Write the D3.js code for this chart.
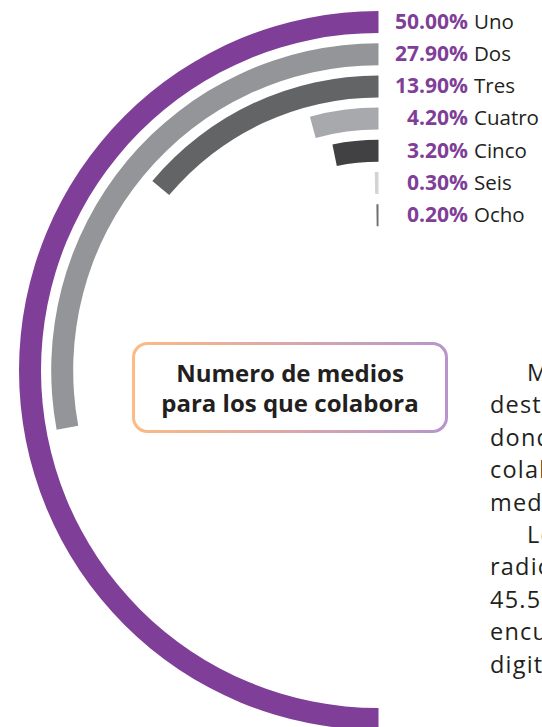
<!DOCTYPE html>
<html><head><meta charset="utf-8">
<script src="https://cdn.jsdelivr.net/npm/d3@7/dist/d3.min.js"></script>
<style>html,body{margin:0;padding:0;background:#fff;overflow:hidden}</style>
</head><body>
<svg id="chart" width="542" height="727"></svg>
<script>
const categories = ["Uno","Dos","Tres","Cuatro","Cinco","Seis","Ocho"];
const values = [50.0, 27.9, 13.9, 4.2, 3.2, 0.3, 0.2];
const valueLabels = ["50.00%","27.90%","13.90%","4.20%","3.20%","0.30%","0.20%"];
const colors = ["#7f3f98","#939598","#636466","#a7a9ac","#414042","#d1d3d4","#6d6e71"];
const titleLines = ["Numero de medios","para los que colabora"];
const paragraphLines = ["Más","destacan","donde","colabora","medios","Los","radio","45.5%","encuestados","digitales"];
const paragraphIndent = [true,false,false,false,false,true,false,false,false,false];

const svg = d3.select("#chart");
const W = 542, H = 727;
const cx = 378.5, cy = 370.5;
const font = "'Open Sans', 'Noto Sans', sans-serif";

const r = d3.scaleBand().domain(categories).range([359.5, 144.3]).paddingInner(0.317).paddingOuter(0);
const angle = d3.scaleLinear().domain([0, 100]).range([0, -2 * Math.PI]);
const color = d3.scaleOrdinal().domain(categories).range(colors);

const g = svg.append("g").attr("transform", `translate(${cx},${cy})`);
const arc = d3.arc()
  .innerRadius(d => r(d.c))
  .outerRadius(d => r(d.c) + r.bandwidth())
  .startAngle(0)
  .endAngle(d => angle(d.v));

const data = categories.map((c, i) => ({c, v: values[i], lab: valueLabels[i]}));
g.selectAll("path.bar").data(data).join("path")
  .attr("class", "bar")
  .attr("d", arc)
  .attr("fill", d => color(d.c));

// labels
const lab = svg.append("g");
data.forEach(d => {
  const yc = cy - (r(d.c) + r.bandwidth() / 2) + 6.8;
  lab.append("text").attr("x", 468).attr("y", yc)
    .attr("text-anchor", "end").attr("font-family", font).attr("font-weight", 700)
    .attr("font-size", 21).attr("fill", "#7f3f98").text(d.lab);
  lab.append("text").attr("x", 474).attr("y", yc)
    .attr("font-family", font).attr("font-size", 20.5).attr("fill", "#231f20").text(d.c);
});

// title box
const defs = svg.append("defs");
const grad = defs.append("linearGradient").attr("id", "boxGrad")
  .attr("x1", "0%").attr("x2", "100%").attr("y1", "0%").attr("y2", "0%");
grad.append("stop").attr("offset", "0%").attr("stop-color", "#fdba85");
grad.append("stop").attr("offset", "100%").attr("stop-color", "#b795cc");
svg.append("rect").attr("x", 133.5).attr("y", 343.5).attr("width", 313).attr("height", 88)
  .attr("rx", 14).attr("fill", "#fff").attr("stroke", "url(#boxGrad)").attr("stroke-width", 3);
titleLines.forEach((t, i) => {
  svg.append("text").attr("x", 290).attr("y", 382 + i * 30)
    .attr("text-anchor", "middle").attr("font-family", font).attr("font-weight", 700)
    .attr("font-size", 24).attr("fill", "#231f20").text(t);
});

// paragraph (continues beyond the right page edge, as in the reference)
const clip = defs.append("clipPath").attr("id", "pageClip");
clip.append("rect").attr("x", 0).attr("y", 0).attr("width", W).attr("height", H);
const para = svg.append("g").attr("clip-path", "url(#pageClip)");
paragraphLines.forEach((t, i) => {
  para.append("text").attr("x", paragraphIndent[i] ? 527 : 490).attr("y", 381 + i * 32.4)
    .attr("font-family", font).attr("font-size", 23.5).attr("letter-spacing", 1.2)
    .attr("fill", "#231f20").text(t);
});
</script>
</body></html>
